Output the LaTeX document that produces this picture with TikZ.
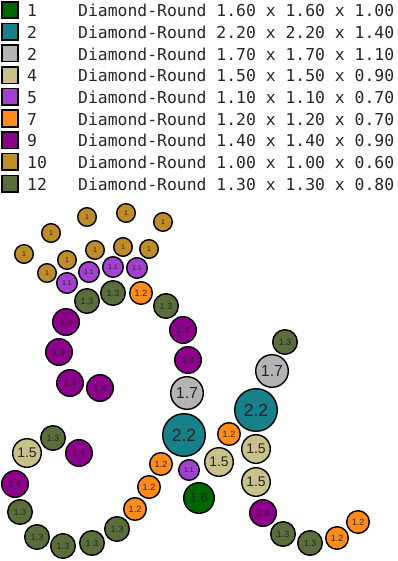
\documentclass[tikz,border=0pt]{standalone}
\usepackage{fontspec}
\setmainfont{Liberation Sans}
\newfontfamily\legfont{DejaVu Sans Mono}
\newfontfamily\balfont{Liberation Sans}
\definecolor{cGreen}{RGB}{0,102,0}
\definecolor{cTeal}{RGB}{24,128,136}
\definecolor{cGray}{RGB}{180,180,180}
\definecolor{cKhaki}{RGB}{200,194,138}
\definecolor{cPurple}{RGB}{164,64,208}
\definecolor{cOrange}{RGB}{255,140,26}
\definecolor{cMagenta}{RGB}{140,0,140}
\definecolor{cGold}{RGB}{190,140,40}
\definecolor{cOlive}{RGB}{90,110,60}
\tikzset{
 ball/.style={circle, draw=black, line width=1.4pt, inner sep=0pt, text=black!85},
 s10/.style={ball, fill=cGold, minimum size=18.6pt, font=\balfont\fontsize{7}{7}\selectfont},
 s11/.style={ball, fill=cPurple, minimum size=20.6pt, font=\balfont\fontsize{7}{7}\selectfont},
 s12/.style={ball, fill=cOrange, minimum size=22.6pt, font=\balfont\fontsize{9}{9}\selectfont},
 s13/.style={ball, fill=cOlive, minimum size=24.6pt, font=\balfont\fontsize{9}{9}\selectfont},
 s14/.style={ball, fill=cMagenta, minimum size=26.6pt, font=\balfont\fontsize{9}{9}\selectfont},
 s15/.style={ball, fill=cKhaki, minimum size=28.6pt, font=\balfont\fontsize{14}{14}\selectfont},
 s16/.style={ball, fill=cGreen, minimum size=30.6pt, font=\balfont\fontsize{13}{13}\selectfont},
 s17/.style={ball, fill=cGray, minimum size=32.6pt, font=\balfont\fontsize{16}{16}\selectfont},
 s22/.style={ball, fill=cTeal, minimum size=42.6pt, font=\balfont\fontsize{17.5}{17.5}\selectfont},
 swatch/.style={draw=black, line width=1.6pt, minimum size=16.5pt, inner sep=0pt},
 legtext/.style={anchor=base west, inner sep=0pt, font=\legfont\fontsize{16.4}{16.4}\selectfont, text=black!85}
}
\begin{document}
\begin{tikzpicture}[x=1pt,y=-1pt]
\useasboundingbox (0,0) rectangle (397,561);
% legend
\foreach \i/\c/\n/\t in {0/cGreen/1/{Diamond-Round 1.60 x 1.60 x 1.00},
 1/cTeal/2/{Diamond-Round 2.20 x 2.20 x 1.40},
 2/cGray/2/{Diamond-Round 1.70 x 1.70 x 1.10},
 3/cKhaki/4/{Diamond-Round 1.50 x 1.50 x 0.90},
 4/cPurple/5/{Diamond-Round 1.10 x 1.10 x 0.70},
 5/cOrange/7/{Diamond-Round 1.20 x 1.20 x 0.70},
 6/cMagenta/9/{Diamond-Round 1.40 x 1.40 x 0.90},
 7/cGold/10/{Diamond-Round 1.00 x 1.00 x 0.60},
 8/cOlive/12/{Diamond-Round 1.30 x 1.30 x 0.80}}{
 \node[swatch, fill=\c] (sw\i) at (10,{10+21.7*\i}) {};
 \node[legtext] (num\i) at (27,{16.7+21.7*\i}) {\n};
 \node[legtext] (txt\i) at (78,{16.7+21.7*\i}) {\t};
}
% size 1.0
\node[s10] (g1) at (87,217) {1};
\node[s10] (g2) at (126,213) {1};
\node[s10] (g3) at (163,222) {1};
\node[s10] (g4) at (51,233) {1};
\node[s10] (g5) at (24,254) {1};
\node[s10] (g6) at (67,260) {1};
\node[s10] (g7) at (95,250) {1};
\node[s10] (g8) at (123,247) {1};
\node[s10] (g9) at (149,249) {1};
\node[s10] (g10) at (47,273) {1};
% size 1.1
\node[s11] (p1) at (67,283) {1.1};
\node[s11] (p2) at (89,272) {1.1};
\node[s11] (p3) at (113,267) {1.1};
\node[s11] (p4) at (137,268) {1.1};
\node[s11] (p5) at (189,470) {1.1};
% size 1.2
\node[s12] (o1) at (141,293) {1.2};
\node[s12] (o2) at (229,434) {1.2};
\node[s12] (o3) at (161,464) {1.2};
\node[s12] (o4) at (149,487) {1.2};
\node[s12] (o5) at (135,509) {1.2};
\node[s12] (o6) at (358,522) {1.2};
\node[s12] (o7) at (337,538) {1.2};
% size 1.3
\node[s13] (v1) at (87,301) {1.3};
\node[s13] (v2) at (113,293) {1.3};
\node[s13] (v3) at (166,306) {1.3};
\node[s13] (v4) at (285,342) {1.3};
\node[s13] (v5) at (53,438) {1.3};
\node[s13] (v6) at (20,512) {1.3};
\node[s13] (v7) at (37,537) {1.3};
\node[s13] (v8) at (63,546) {1.3};
\node[s13] (v9) at (92,543) {1.3};
\node[s13] (v10) at (117,529) {1.3};
\node[s13] (v11) at (283,534) {1.3};
\node[s13] (v12) at (310,543) {1.3};
% size 1.4
\node[s14] (m1) at (66,322) {1.4};
\node[s14] (m2) at (59,352) {1.4};
\node[s14] (m3) at (183,330) {1.4};
\node[s14] (m4) at (188,360) {1.4};
\node[s14] (m5) at (70,383) {1.4};
\node[s14] (m6) at (100,388) {1.4};
\node[s14] (m7) at (79,453) {1.4};
\node[s14] (m8) at (15,484) {1.4};
\node[s14] (m9) at (263,513) {1.4};
% size 1.5
\node[s15] (k1) at (27,453) {1.5};
\node[s15] (k2) at (219,462) {1.5};
\node[s15] (k3) at (256,449) {1.5};
\node[s15] (k4) at (256,482) {1.5};
% size 1.6
\node[s16] (d1) at (199,498) {1.6};
% size 1.7
\node[s17] (y1) at (187,393) {1.7};
\node[s17] (y2) at (272,371) {1.7};
% size 2.2
\node[s22] (t1) at (184,435) {2.2};
\node[s22] (t2) at (256,410) {2.2};
\end{tikzpicture}
\end{document}
